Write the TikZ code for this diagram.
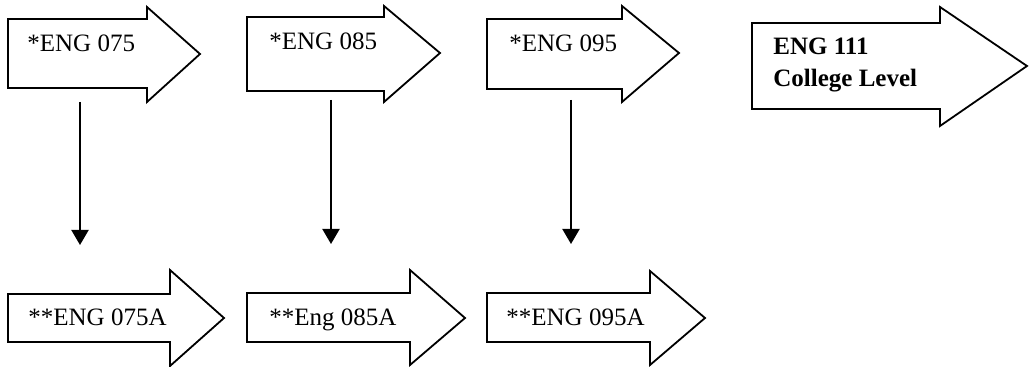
\documentclass[tikz,border=0pt]{standalone}
\usepackage{fontspec}
\setmainfont{Liberation Serif}
\usetikzlibrary{arrows.meta}
\tikzset{
  blockarrow/.style={draw,line width=0.9pt,line join=miter},
  label text/.style={anchor=base west,inner sep=0pt,font=\fontsize{12.5}{16}\selectfont}
}
\begin{document}
\begin{tikzpicture}[x=0.5pt,y=-0.5pt]
  \useasboundingbox (0,0) rectangle (1029,367);

  % top row of block arrows
  \draw[blockarrow] (8,19) -- (147,19) -- (147,7) -- (200,54) -- (147,102) -- (147,88) -- (8,88) -- cycle;
  \draw[blockarrow] (247,17) -- (384,17) -- (384,6) -- (440,53) -- (384,102) -- (384,91) -- (247,91) -- cycle;
  \draw[blockarrow] (487,19) -- (622,19) -- (622,6) -- (679,53) -- (622,102) -- (622,89) -- (487,89) -- cycle;
  \draw[blockarrow] (752,23) -- (940,23) -- (940,7) -- (1027,66) -- (940,126) -- (940,109) -- (752,109) -- cycle;

  % bottom row of block arrows
  \draw[blockarrow] (8,294) -- (170,294) -- (170,270) -- (224,318) -- (170,366) -- (170,342) -- (8,342) -- cycle;
  \draw[blockarrow] (247,293) -- (410,293) -- (410,270) -- (465,318) -- (410,365) -- (410,342) -- (247,342) -- cycle;
  \draw[blockarrow] (487,293) -- (650,293) -- (650,271) -- (705,318) -- (650,365) -- (650,342) -- (487,342) -- cycle;

  \begin{scope}[every node/.style={label text}]
    \node (eng075)  at (27,52)  {*ENG 075};
    \node (eng085)  at (269,50) {*ENG 085};
    \node (eng095)  at (509,52) {*ENG 095};
    \node (eng111)  at (773,87) [align=left,font=\fontsize{12.5}{16}\selectfont\bfseries] {ENG 111\\College Level};
    \node (eng075a) at (28,326)  {**ENG 075A};
    \node (eng085a) at (269,326) {**Eng 085A};
    \node (eng095a) at (506,326) {**ENG 095A};
  \end{scope}

  \coordinate (drop1) at (80,102);
  \coordinate (land1) at (80,245);
  \coordinate (drop2) at (331,100);
  \coordinate (land2) at (331,244);
  \coordinate (drop3) at (571,100);
  \coordinate (land3) at (571,244);

  \begin{scope}[every edge/.style={draw,line width=1pt,-{Triangle[width=8.5pt,length=7.5pt]}}]
    \path (drop1) edge (land1);
    \path (drop2) edge (land2);
    \path (drop3) edge (land3);
  \end{scope}

\end{tikzpicture}
\end{document}
